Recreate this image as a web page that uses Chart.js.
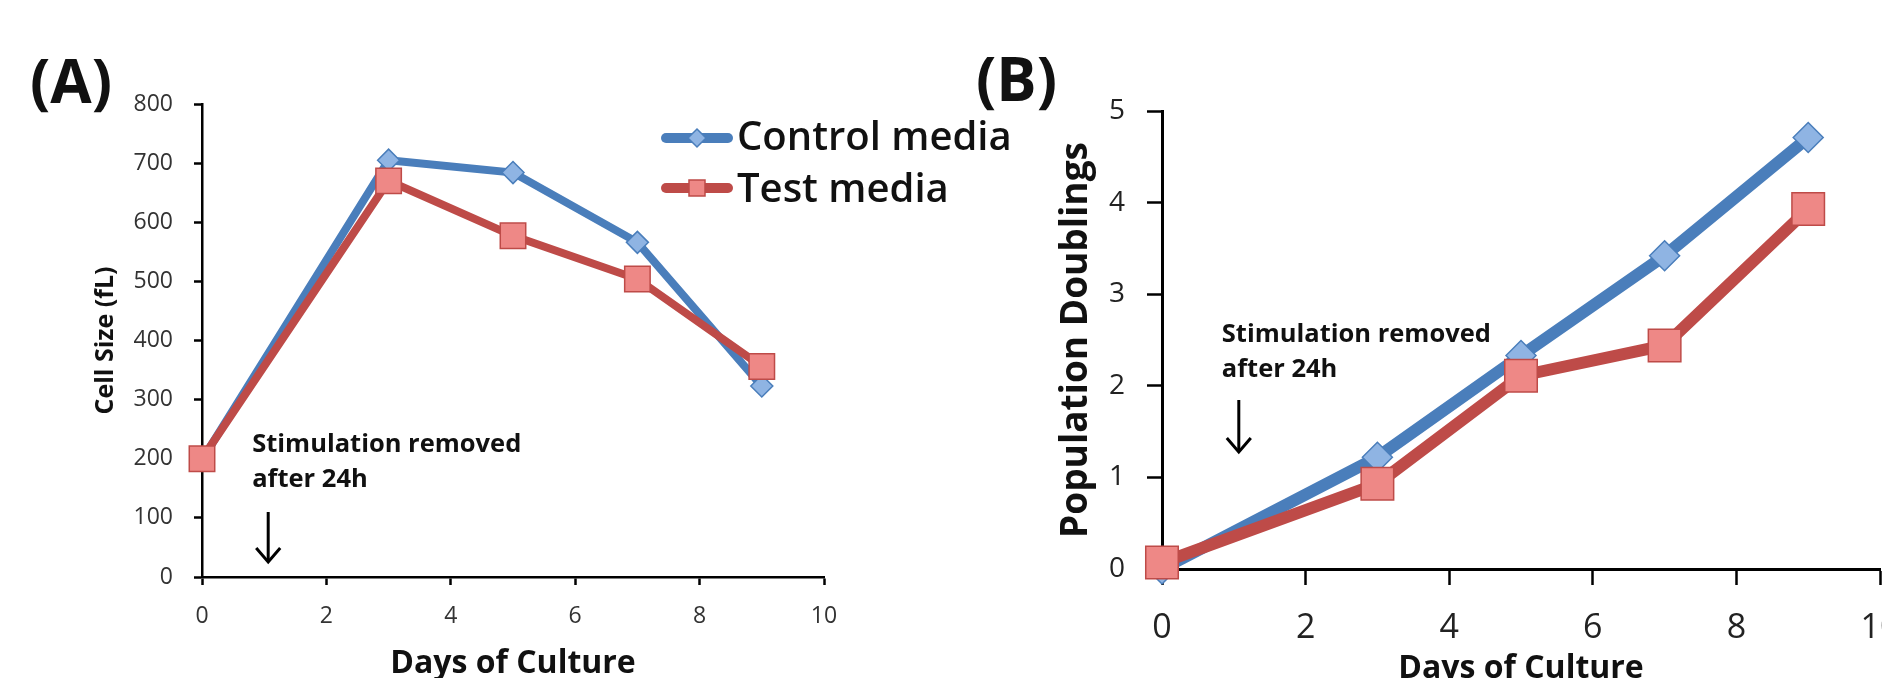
<!DOCTYPE html>
<html>
<head>
<meta charset="utf-8">
<script src="https://cdn.jsdelivr.net/npm/chart.js@4"></script>
<style>
  html, body { margin: 0; padding: 0; background: #fff; overflow: hidden; }
  body { width: 1882px; height: 678px; position: relative; }
  canvas { position: absolute; top: 0; }
  #chartA { left: 0; }
  #chartB { left: 940px; }
</style>
</head>
<body>
<canvas id="chartA" width="1100" height="678"></canvas>
<canvas id="chartB" width="1000" height="678"></canvas>
<script>
// days the cultures were measured
var days = [0, 3, 5, 7, 9];

// (A) cell size, fL
var controlSize = [198, 705, 684, 566, 323];
var testSize = [200, 670, 577, 504, 356];

// (B) population doublings
var controlDoublings = [0.0, 1.22, 2.33, 3.42, 4.71];
var testDoublings = [0.07, 0.93, 2.11, 2.44, 3.93];

var seriesNames = ['Control media', 'Test media'];
var noteLines = ['Stimulation removed', 'after 24h'];
var noteDay = 1;

var FONT = '"Open Sans", sans-serif';
var BLUE = '#4a7ebb';
var BLUE_FILL = '#8fb4e3';
var RED = '#be4b48';
var RED_FILL = '#ee8886';

function toPoints(values) {
    return days.map(function (d, i) { return { x: d, y: values[i] }; });
}

function drawMarker(ctx, style, x, y, r, fill, stroke) {
    ctx.save();
    ctx.beginPath();
    if (style === 'rectRot') {
        ctx.moveTo(x, y - r);
        ctx.lineTo(x + r, y);
        ctx.lineTo(x, y + r);
        ctx.lineTo(x - r, y);
        ctx.closePath();
    } else {
        ctx.rect(x - r, y - r, 2 * r, 2 * r);
    }
    ctx.fillStyle = fill;
    ctx.fill();
    ctx.lineWidth = 1.5;
    ctx.strokeStyle = stroke;
    ctx.stroke();
    ctx.restore();
}

// legend drawn next to panel A
var mediaLegend = {
    id: 'mediaLegend',
    afterDraw: function (chart, args, opts) {
        if (!opts.show) return;
        var ctx = chart.ctx;
        chart.data.datasets.forEach(function (ds, i) {
            var y = opts.rows[i];
            ctx.save();
            ctx.strokeStyle = ds.borderColor;
            ctx.lineWidth = 10;
            ctx.lineCap = 'round';
            ctx.beginPath();
            ctx.moveTo(opts.x0, y);
            ctx.lineTo(opts.x1, y);
            ctx.stroke();
            ctx.restore();
            drawMarker(ctx, ds.pointStyle, (opts.x0 + opts.x1) / 2, y,
                ds.pointStyle === 'rect' ? 8 : 9, ds.pointBackgroundColor, ds.borderColor);
            ctx.save();
            ctx.fillStyle = '#111';
            ctx.font = '600 40px ' + FONT;
            ctx.textBaseline = 'alphabetic';
            ctx.fillText(ds.label, opts.textX, opts.baselines[i]);
            ctx.restore();
        });
    }
};

// "Stimulation removed" note with the arrow
var stimNote = {
    id: 'stimNote',
    afterDraw: function (chart, args, opts) {
        var ctx = chart.ctx;
        var x = chart.scales.x.getPixelForValue(noteDay) + opts.arrowDx;
        ctx.save();
        ctx.fillStyle = '#111';
        ctx.font = 'bold ' + opts.fontSize + 'px ' + FONT;
        ctx.textBaseline = 'alphabetic';
        noteLines.forEach(function (t, i) {
            ctx.fillText(t, x + opts.textDx, opts.baseline + i * opts.lineGap);
        });
        ctx.strokeStyle = '#000';
        ctx.lineWidth = 3;
        ctx.beginPath();
        ctx.moveTo(x, opts.arrowTop);
        ctx.lineTo(x, opts.arrowBottom - 2);
        ctx.stroke();
        ctx.beginPath();
        ctx.moveTo(x - 12, opts.arrowBottom - 14);
        ctx.lineTo(x, opts.arrowBottom);
        ctx.lineTo(x + 12, opts.arrowBottom - 14);
        ctx.lineWidth = 3;
        ctx.stroke();
        ctx.restore();
    }
};

function makeDatasets(ctrl, test, lineW, diamondR, squareR) {
    return [{
        label: seriesNames[0],
        data: toPoints(ctrl),
        borderColor: BLUE,
        backgroundColor: BLUE,
        borderWidth: lineW,
        pointStyle: 'rectRot',
        pointRadius: diamondR,
        pointBackgroundColor: BLUE_FILL,
        pointBorderColor: BLUE,
        pointBorderWidth: 1.5,
        tension: 0,
        clip: false,
        order: 1
    }, {
        label: seriesNames[1],
        data: toPoints(test),
        borderColor: RED,
        backgroundColor: RED,
        borderWidth: lineW,
        pointStyle: 'rect',
        pointRadius: squareR,
        pointBackgroundColor: RED_FILL,
        pointBorderColor: RED,
        pointBorderWidth: 1.5,
        tension: 0,
        clip: false,
        order: 0
    }];
}

function axisStyle(tickLen) {
    return {
        display: true,
        drawOnChartArea: false,
        drawTicks: true,
        tickLength: tickLen,
        tickColor: '#000',
        tickWidth: 2.5
    };
}

// ---- panel A ----
new Chart(document.getElementById('chartA').getContext('2d'), {
    type: 'line',
    data: { datasets: makeDatasets(controlSize, testSize, 8, 11, 18) },
    options: {
        responsive: false,
        animation: false,
        layout: { padding: { left: 91, right: 276, top: 104, bottom: 0 } },
        scales: {
            x: {
                type: 'linear', min: 0, max: 10,
                ticks: { stepSize: 2, padding: 18, color: '#333', font: { family: FONT, size: 23 } },
                grid: axisStyle(8),
                border: { display: true, color: '#000', width: 2.5 },
                title: { display: true, text: 'Days of Culture', color: '#111',
                    font: { family: FONT, size: 32, weight: 'bold' }, padding: { top: 0, bottom: -5 } },
                afterFit: function (s) { s.height = 101; }
            },
            y: {
                min: 0, max: 800,
                ticks: { stepSize: 100, padding: 21, color: '#333', font: { family: FONT, size: 23 } },
                grid: axisStyle(8),
                border: { display: true, color: '#000', width: 2.5 },
                title: { display: true, text: 'Cell Size (fL)', color: '#111',
                    font: { family: FONT, size: 25, weight: 'bold' }, padding: { top: 0, bottom: 0 } },
                afterFit: function (s) { s.width = 111; }
            }
        },
        plugins: {
            legend: { display: false },
            tooltip: { enabled: false },
            mediaLegend: { show: true, x0: 666, x1: 728, rows: [138, 188], baselines: [150, 202], textX: 737 },
            stimNote: { arrowDx: 4, textDx: -16, baseline: 452, lineGap: 35,
                arrowTop: 512, arrowBottom: 562, fontSize: 25.5 }
        }
    },
    plugins: [mediaLegend, stimNote]
});

// ---- panel B ----
new Chart(document.getElementById('chartB').getContext('2d'), {
    type: 'line',
    data: { datasets: makeDatasets(controlDoublings, testDoublings, 12, 15, 23) },
    options: {
        responsive: false,
        animation: false,
        layout: { padding: { left: 114, right: 60, top: 111, bottom: 0 } },
        scales: {
            x: {
                type: 'linear', min: 0, max: 10,
                ticks: { stepSize: 2, padding: 23, color: '#222', font: { family: FONT, size: 34 } },
                grid: axisStyle(16),
                border: { display: true, color: '#000', width: 3 },
                title: { display: true, text: 'Days of Culture', color: '#111',
                    font: { family: FONT, size: 32, weight: 'bold' }, padding: { top: 0, bottom: -10 } },
                afterFit: function (s) { s.height = 109; }
            },
            y: {
                min: 0, max: 5,
                ticks: { stepSize: 1, padding: 22, color: '#222', font: { family: FONT, size: 28 } },
                grid: axisStyle(15),
                border: { display: true, color: '#000', width: 3 },
                title: { display: true, text: 'Population Doublings', color: '#111',
                    font: { family: FONT, size: 37, weight: 'bold' }, padding: { top: 0, bottom: 0 } },
                afterFit: function (s) { s.width = 108; }
            }
        },
        plugins: {
            legend: { display: false },
            tooltip: { enabled: false },
            mediaLegend: { show: false },
            stimNote: { arrowDx: 5, textDx: -17, baseline: 342, lineGap: 35,
                arrowTop: 400, arrowBottom: 452, fontSize: 25.5 }
        }
    },
    plugins: [mediaLegend, stimNote]
});

// panel letters
(function () {
    var ctx = document.getElementById('chartA').getContext('2d');
    ctx.save();
    ctx.fillStyle = '#111';
    ctx.font = 'bold 60px ' + FONT;
    ctx.textBaseline = 'alphabetic';
    ctx.fillText('(A)', 30, 103);
    ctx.restore();
    var ctxB = document.getElementById('chartB').getContext('2d');
    ctxB.save();
    ctxB.fillStyle = '#111';
    ctxB.font = 'bold 60px ' + FONT;
    ctxB.fillText('(B)', 976 - 940, 101);
    ctxB.restore();
})();
</script>
</body>
</html>
